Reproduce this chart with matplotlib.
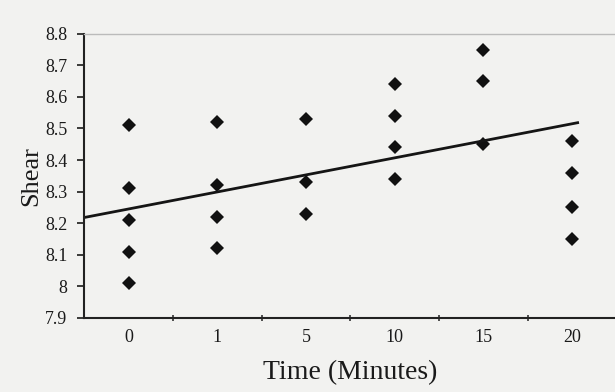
import matplotlib
matplotlib.use("Agg")
import matplotlib.pyplot as plt

# Data
time_labels = ["0", "1", "5", "10", "15", "20"]
shear_t0 = [8.51, 8.31, 8.21, 8.11, 8.01]
shear_t1 = [8.52, 8.32, 8.22, 8.12]
shear_t5 = [8.53, 8.33, 8.23]
shear_t10 = [8.64, 8.54, 8.44, 8.34]
shear_t15 = [8.75, 8.65, 8.45]
shear_t20 = [8.46, 8.36, 8.25, 8.15]
trend_x = [-0.5, 5.08]
trend_y = [8.218, 8.519]
y_ticks = [7.9, 8.0, 8.1, 8.2, 8.3, 8.4, 8.5, 8.6, 8.7, 8.8]
y_tick_labels = ["7.9", "8", "8.1", "8.2", "8.3", "8.4", "8.5", "8.6", "8.7", "8.8"]

groups = [shear_t0, shear_t1, shear_t5, shear_t10, shear_t15, shear_t20]

plt.rcParams['font.family'] = ['Liberation Serif', 'DejaVu Serif']
bg = '#f2f2f0'
fig = plt.figure(figsize=(6.15, 3.92), dpi=100, facecolor=bg)
ax = fig.add_axes([0.137, 0.189, 0.865, 0.725])
ax.set_facecolor(bg)

for i, g in enumerate(groups):
    ax.plot([i] * len(g), g, linestyle='none', marker='D', markersize=7.5,
            color='#111111', markeredgewidth=0)

ax.plot(trend_x, trend_y, color='#151515', linewidth=2.0, solid_capstyle='butt')

ax.set_xlim(-0.5, 5.5)
ax.set_ylim(7.9, 8.8)
ax.set_yticks(y_ticks)
ax.set_yticklabels(y_tick_labels)
ax.set_xticks(range(len(time_labels)))
ax.set_xticklabels(time_labels)
ax.set_xticks([i + 0.5 for i in range(len(time_labels) - 1)], minor=True)

ax.tick_params(axis='x', which='major', length=0, pad=8, labelsize=13, colors='#1a1a1a')
ax.tick_params(axis='x', which='minor', length=5, direction='inout', width=1.2, color='#333333')
ax.tick_params(axis='y', which='major', length=5, direction='out', width=1.2, pad=7,
               labelsize=13, colors='#1a1a1a')

for s in ['left', 'bottom']:
    ax.spines[s].set_color('#222222')
    ax.spines[s].set_linewidth(1.5)
ax.spines['top'].set_color('#bbbbbb')
ax.spines['top'].set_linewidth(1.0)
ax.spines['right'].set_visible(False)

ax.set_xlabel("Time (Minutes)", fontsize=20, color='#1a1a1a', labelpad=10)
ax.set_ylabel("Shear", fontsize=19, color='#1a1a1a', labelpad=2)

fig.savefig("out.png", dpi=100, facecolor=bg)
